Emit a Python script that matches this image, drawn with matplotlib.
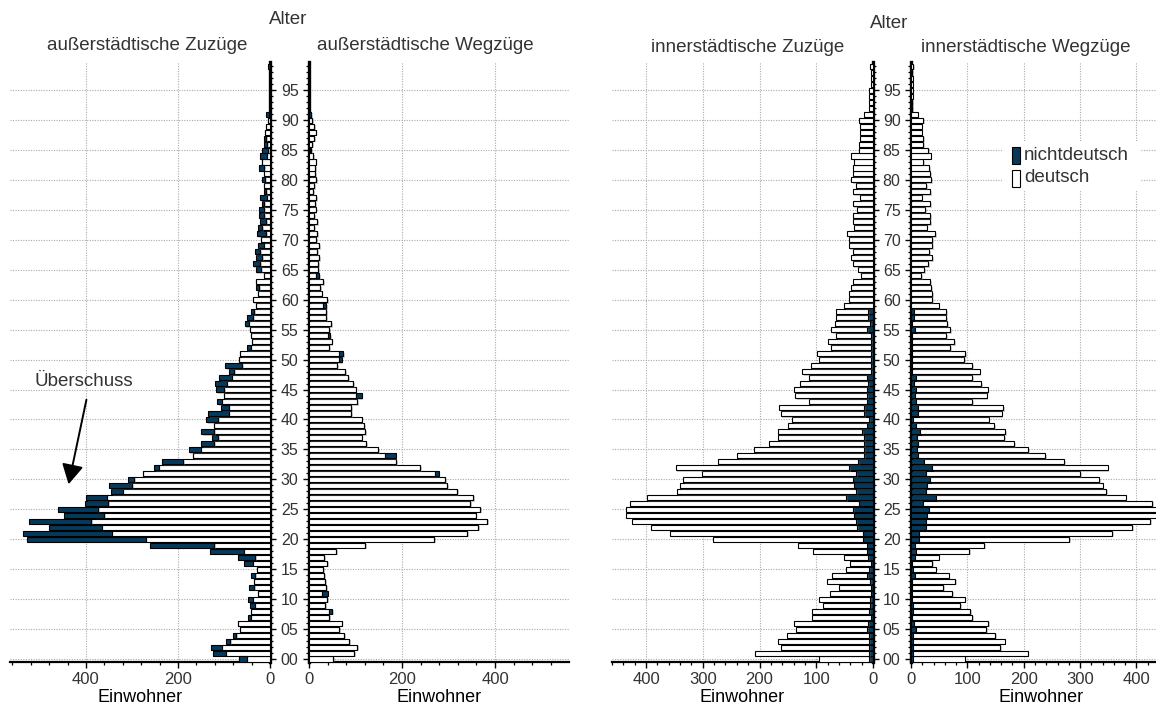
import numpy as np
import matplotlib
matplotlib.use('Agg')
import matplotlib.pyplot as plt
import matplotlib.patheffects as pe
from matplotlib.ticker import MultipleLocator, FuncFormatter
from matplotlib.patches import Rectangle

plt.rcParams['font.family'] = ['Liberation Sans', 'DejaVu Sans']
plt.rcParams['text.color'] = '#333333'
plt.rcParams['xtick.labelcolor'] = '#333333'
plt.rcParams['ytick.labelcolor'] = '#333333'

alter = np.arange(100)

# ausserstaedtische Zuzuege (deutsch innen, nichtdeutsch aussen)
aus_zu_deutsch = [51, 96, 105, 86, 74, 66, 69, 42, 42, 33,
                  38, 25, 35, 34, 32, 29, 38, 32, 57, 121,
                  270, 344, 366, 388, 361, 373, 351, 355, 320, 299,
                  295, 275, 242, 188, 167, 151, 122, 112, 121, 121,
                  112, 90, 90, 105, 101, 99, 94, 83, 78, 60,
                  67, 65, 42, 40, 42, 43, 46, 36, 35, 30,
                  38, 25, 23, 30, 14, 19, 21, 17, 21, 14,
                  19, 9, 17, 9, 12, 12, 13, 7, 9, 14,
                  11, 12, 12, 17, 7, 4, 6, 9, 11, 9,
                  5, 3, 0, 0, 0, 0, 0, 0, 0, 0]
aus_zu_nicht = [16, 27, 23, 9, 7, 0, 0, 5, 0, 10,
                9, 0, 10, 0, 9, 0, 18, 37, 74, 140,
                257, 193, 114, 135, 86, 88, 52, 45, 25, 51,
                14, 0, 10, 47, 0, 26, 28, 14, 29, 0,
                27, 45, 17, 10, 0, 18, 25, 28, 12, 37,
                0, 0, 9, 0, 0, 0, 9, 13, 7, 0,
                0, 0, 7, 0, 0, 12, 17, 14, 12, 13,
                0, 19, 9, 13, 12, 12, 4, 14, 5, 0,
                6, 0, 11, 0, 14, 14, 6, 5, 0, 0,
                0, 6, 0, 0, 0, 0, 0, 0, 0, 4]

# ausserstaedtische Wegzuege
aus_weg_deutsch = [52, 97, 103, 86, 75, 65, 70, 43, 43, 35,
                   39, 27, 37, 35, 32, 30, 39, 32, 59, 121,
                   269, 340, 364, 383, 358, 368, 346, 353, 319, 297,
                   293, 270, 239, 188, 163, 148, 123, 113, 121, 118,
                   113, 90, 90, 104, 102, 100, 95, 84, 78, 60,
                   65, 65, 43, 49, 41, 43, 48, 37, 37, 30,
                   39, 27, 24, 30, 16, 20, 20, 22, 18, 22,
                   16, 18, 11, 17, 11, 14, 13, 16, 9, 11,
                   16, 13, 13, 14, 9, 2, 7, 11, 14, 11,
                   7, 1, 0, 0, 0, 0, 0, 0, 0, 0]
aus_weg_nicht = [0, 0, 0, 0, 0, 0, 0, 0, 7, 0,
                 0, 13, 0, 0, 0, 0, 0, 0, 0, 0,
                 0, 0, 0, 0, 0, 0, 0, 0, 0, 0,
                 0, 9, 0, 0, 23, 0, 0, 0, 0, 0,
                 0, 0, 0, 0, 11, 0, 0, 0, 0, 0,
                 5, 9, 0, 0, 5, 0, 0, 0, 0, 7,
                 0, 0, 0, 0, 6, 0, 0, 0, 0, 0,
                 0, 0, 0, 0, 0, 0, 0, 0, 0, 0,
                 0, 0, 0, 0, 0, 2, 0, 0, 0, 0,
                 0, 3, 0, 0, 0, 0, 0, 0, 0, 0]

# innerstaedtische Zuzuege (gesamt und nichtdeutsch innen)
inn_zu_gesamt = [96, 208, 162, 167, 151, 136, 140, 108, 108, 89,
                 96, 75, 60, 81, 72, 47, 40, 51, 105, 133,
                 282, 358, 392, 425, 436, 436, 428, 399, 346, 341,
                 335, 302, 348, 274, 239, 209, 184, 167, 168, 149,
                 142, 163, 165, 112, 137, 140, 129, 112, 125, 110,
                 96, 98, 74, 79, 65, 74, 67, 65, 65, 51,
                 42, 43, 39, 36, 22, 26, 36, 39, 35, 43,
                 43, 46, 34, 36, 36, 28, 36, 23, 36, 30,
                 38, 36, 35, 33, 38, 25, 25, 23, 23, 23,
                 25, 16, 7, 7, 7, 7, 4, 3, 3, 5]
inn_zu_nicht = [7, 7, 7, 7, 7, 10, 9, 4, 7, 5,
                5, 4, 4, 5, 10, 7, 4, 9, 11, 11,
                18, 18, 28, 30, 34, 35, 25, 47, 30, 34,
                36, 30, 42, 26, 15, 15, 15, 16, 19, 11,
                7, 16, 16, 11, 10, 11, 9, 11, 3, 3,
                3, 3, 3, 3, 3, 10, 5, 9, 9, 0,
                0, 0, 0, 0, 0, 0, 0, 0, 0, 0,
                0, 0, 0, 0, 0, 0, 0, 0, 0, 0,
                0, 0, 0, 0, 0, 0, 0, 0, 0, 0,
                0, 0, 0, 0, 0, 0, 0, 0, 0, 0]

# innerstaedtische Wegzuege
inn_weg_gesamt = [95, 207, 158, 166, 149, 133, 137, 108, 105, 87,
                  95, 73, 57, 78, 67, 44, 38, 49, 103, 130,
                  281, 357, 392, 424, 436, 440, 428, 381, 346, 340,
                  334, 300, 349, 272, 238, 208, 183, 165, 167, 147,
                  138, 161, 164, 109, 134, 136, 125, 109, 122, 108,
                  94, 96, 70, 76, 62, 70, 64, 62, 62, 49,
                  38, 38, 36, 34, 18, 23, 31, 37, 32, 38,
                  38, 43, 28, 34, 34, 25, 34, 19, 34, 27,
                  36, 34, 32, 22, 35, 30, 21, 21, 19, 19,
                  21, 12, 2, 2, 3, 3, 3, 3, 2, 4]
inn_weg_nicht = [4, 4, 4, 4, 3, 8, 6, 2, 4, 3,
                 2, 2, 2, 2, 7, 4, 2, 7, 9, 7,
                 15, 15, 26, 27, 29, 32, 22, 44, 27, 29,
                 34, 27, 38, 23, 13, 11, 12, 10, 16, 9,
                 4, 13, 13, 8, 7, 8, 5, 8, 2, 2,
                 2, 2, 2, 2, 2, 7, 2, 5, 5, 0,
                 0, 0, 0, 0, 0, 0, 0, 0, 0, 0,
                 0, 0, 0, 0, 0, 0, 0, 0, 0, 0,
                 0, 0, 0, 0, 0, 0, 0, 0, 0, 0,
                 0, 0, 0, 0, 0, 0, 0, 0, 0, 0]

dunkel = '#063a5b'
hell = 'white'
schatten = [pe.SimplePatchShadow(offset=(1.2, -1.2), shadow_rgbFace='#777777', alpha=0.35), pe.Normal()]

W, H = 1156, 708
fig = plt.figure(figsize=(W / 100, H / 100), dpi=100)


def achse(x0, breite):
    return fig.add_axes([x0 / W, (H - 662) / H, breite / W, 600 / H])


def seite(ax, innen, aussen, f_innen, f_aussen, xmax, links, haupt, neben):
    innen = np.array(innen)
    aussen = np.array(aussen)
    ax.barh(alter, innen, height=0.84, color=f_innen, edgecolor='black',
            linewidth=0.8, path_effects=schatten, zorder=3)
    ax.barh(alter, aussen, left=innen, height=0.84, color=f_aussen, edgecolor='black',
            linewidth=0.8, path_effects=schatten, zorder=3)
    ax.set_ylim(-0.5, 99.7)
    if links:
        ax.set_xlim(xmax, 0)
    else:
        ax.set_xlim(0, xmax)
    ax.xaxis.set_major_locator(MultipleLocator(haupt))
    ax.xaxis.set_minor_locator(MultipleLocator(neben))
    ax.yaxis.set_major_locator(MultipleLocator(5))
    ax.yaxis.set_minor_locator(MultipleLocator(1))
    ax.grid(True, which='major', color='#aaaaaa', linestyle=(0, (1, 1.3)), linewidth=0.8)
    ax.set_axisbelow(True)
    ax.spines['top'].set_visible(False)
    ax.spines['bottom'].set_linewidth(1.6)
    if links:
        ax.spines['left'].set_visible(False)
        ax.spines['right'].set_linewidth(2.4)
        ax.yaxis.tick_right()
        ax.tick_params(axis='y', which='both', labelright=False)
    else:
        ax.spines['right'].set_visible(False)
        ax.spines['left'].set_linewidth(2.4)
        ax.yaxis.set_major_formatter(FuncFormatter(lambda v, p: f"{int(v):02d}"))
    ax.tick_params(which='major', direction='out', length=4.5, width=1, labelsize=12, pad=3)
    ax.tick_params(which='minor', direction='out', length=2.5, width=0.9)
    ax.tick_params(axis='y', labelsize=11.5, pad=3)
    ax.set_xlabel('Einwohner', fontsize=13, labelpad=1)


ax1 = achse(10, 260)
seite(ax1, aus_zu_deutsch, aus_zu_nicht, hell, dunkel, 565, True, 200, 40)
ax2 = achse(309, 260)
seite(ax2, aus_weg_deutsch, aus_weg_nicht, hell, dunkel, 559, False, 200, 40)

inn_zu_deutsch = np.array(inn_zu_gesamt) - np.array(inn_zu_nicht)
inn_weg_deutsch = np.array(inn_weg_gesamt) - np.array(inn_weg_nicht)
ax3 = achse(612, 261)
seite(ax3, inn_zu_nicht, inn_zu_deutsch, dunkel, hell, 460, True, 100, 20)
ax4 = achse(911, 261)
seite(ax4, inn_weg_nicht, inn_weg_deutsch, dunkel, hell, 463, False, 100, 20)


def ftext(x, y, s, **kw):
    fig.text(x / W, 1 - y / H, s, ha='center', va='center', **kw)


ftext(147, 46, 'außerstädtische Zuzüge', fontsize=13.5)
ftext(425, 46, 'außerstädtische Wegzüge', fontsize=13.5)
ftext(748, 48, 'innerstädtische Zuzüge', fontsize=13.5)
ftext(1026, 48, 'innerstädtische Wegzüge', fontsize=13.5)
ftext(288, 20, 'Alter', fontsize=13.5)
ftext(889, 23, 'Alter', fontsize=13.5)
ftext(84, 381, 'Überschuss', fontsize=13.5)

fig.add_artist(matplotlib.patches.FancyArrowPatch(
    (87 / W, 1 - 397 / H), (68 / W, 1 - 487 / H), transform=fig.transFigure,
    arrowstyle='-|>,head_length=0.55,head_width=0.3', mutation_scale=22,
    color='black', linewidth=1.4))

# Legende
fig.add_artist(Rectangle((1003 / W, 1 - 191 / H), 137 / W, 50 / H, transform=fig.transFigure,
                         facecolor='white', edgecolor='none'))
fig.add_artist(Rectangle((1012 / W, 1 - 164 / H), 8 / W, 17 / H, transform=fig.transFigure,
                         facecolor=dunkel, edgecolor='black', linewidth=0.8))
fig.add_artist(Rectangle((1012 / W, 1 - 187 / H), 8 / W, 17 / H, transform=fig.transFigure,
                         facecolor='white', edgecolor='black', linewidth=0.8))
fig.text(1024 / W, 1 - 156 / H, 'nichtdeutsch', ha='left', va='center', fontsize=13.5)
fig.text(1024 / W, 1 - 178 / H, 'deutsch', ha='left', va='center', fontsize=13.5)

fig.savefig('out.png', dpi=100)
